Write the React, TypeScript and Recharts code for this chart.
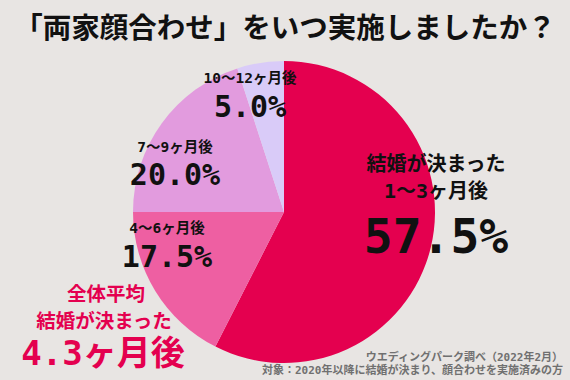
import { PieChart, Pie, Cell } from "recharts";

const categories = ["1〜3ヶ月後", "4〜6ヶ月後", "7〜9ヶ月後", "10〜12ヶ月後"];
const shares = [57.5, 17.5, 20.0, 5.0];
const sliceColors = ["#e4004f", "#ee5fa2", "#e29bde", "#d9cbf8"];

const title = "「両家顔合わせ」をいつ実施しましたか？";
const averageLines = ["全体平均", "結婚が決まった", "4.3ヶ月後"];
const sourceLines = [
    "ウエディングパーク調べ（2022年2月）",
    "対象：2020年以降に結婚が決まり、顔合わせを実施済みの方",
];

const chartData = categories.map((name, i) => ({ name, value: shares[i] }));

const CX = 284;
const CY = 212;
const MONO = "'DejaVu Sans Mono', 'Noto Sans CJK JP', sans-serif";
const JP = "'Noto Sans CJK JP', sans-serif";

// where each slice's text sits, measured from the pie centre (percentage baseline)
const labelSpots = [
    { dx: 152, dy: 41, pct: 48, name: 20, nameUp: 55, prefix: "結婚が決まった", prefixUp: 82 },
    { dx: -117, dy: 55, pct: 30, name: 14.5, nameUp: 34 },
    { dx: -109, dy: -27, pct: 30, name: 14.5, nameUp: 33 },
    { dx: -34, dy: -95, pct: 30, name: 14.5, nameUp: 34 },
];

const renderLabel = (props: any) => {
    const { index, name, value } = props;
    const cx = props.cx ?? CX;
    const cy = props.cy ?? CY;
    const spot = labelSpots[index];
    const x = cx + spot.dx;
    const y = cy + spot.dy;
    return (
        <g key={`lbl-${index}`}>
            {spot.prefix && (
                <text x={x} y={y - spot.prefixUp} textAnchor="middle" fontFamily={JP}
                    fontWeight={700} fontSize={spot.name} fill="#111">
                    {spot.prefix}
                </text>
            )}
            <text x={x} y={y - spot.nameUp} textAnchor="middle" fontFamily={MONO}
                fontWeight={700} fontSize={spot.name} fill="#111">
                {name}
            </text>
            <text x={x} y={y} textAnchor="middle" fontFamily={MONO}
                fontWeight={700} fontSize={spot.pct} fill="#111">
                {Number(value).toFixed(1)}%
            </text>
        </g>
    );
};

export default function App() {
    return (
        <div style={{ position: "absolute", left: 0, top: 0, width: 570, height: 380, background: "#e8e5e3" }}>
            <PieChart width={570} height={380} margin={{ top: 0, right: 0, bottom: 0, left: 0 }}>
                <Pie
                    data={chartData}
                    dataKey="value"
                    nameKey="name"
                    cx={CX}
                    cy={CY}
                    outerRadius={151}
                    startAngle={90}
                    endAngle={-270}
                    stroke="none"
                    label={renderLabel}
                    labelLine={false}
                    isAnimationActive={false}
                >
                    {chartData.map((d, i) => (
                        <Cell key={d.name} fill={sliceColors[i]} />
                    ))}
                </Pie>
            </PieChart>

            {/* headings and notes on top of the chart */}
            <svg width={570} height={380} style={{ position: "absolute", left: 0, top: 0, pointerEvents: "none" }}>
                <text x={285} y={38} textAnchor="middle" fontFamily={JP} fontWeight={700} fontSize={28.5} fill="#111">
                    {title}
                </text>
                <text x={106} y={301} textAnchor="middle" fontFamily={JP} fontWeight={700} fontSize={19.5} fill="#e4004f">
                    {averageLines[0]}
                </text>
                <text x={104} y={328} textAnchor="middle" fontFamily={JP} fontWeight={700} fontSize={19.5} fill="#e4004f">
                    {averageLines[1]}
                </text>
                <text x={103} y={365} textAnchor="middle" fontFamily={MONO} fontWeight={700} fontSize={34} fill="#e4004f">
                    {averageLines[2]}
                </text>
                <text x={563} y={361} textAnchor="end" fontFamily={MONO} fontWeight={700} fontSize={11} fill="#707070">
                    {sourceLines[0]}
                </text>
                <text x={563} y={374} textAnchor="end" fontFamily={MONO} fontWeight={700} fontSize={11} fill="#707070">
                    {sourceLines[1]}
                </text>
            </svg>
        </div>
    );
}
